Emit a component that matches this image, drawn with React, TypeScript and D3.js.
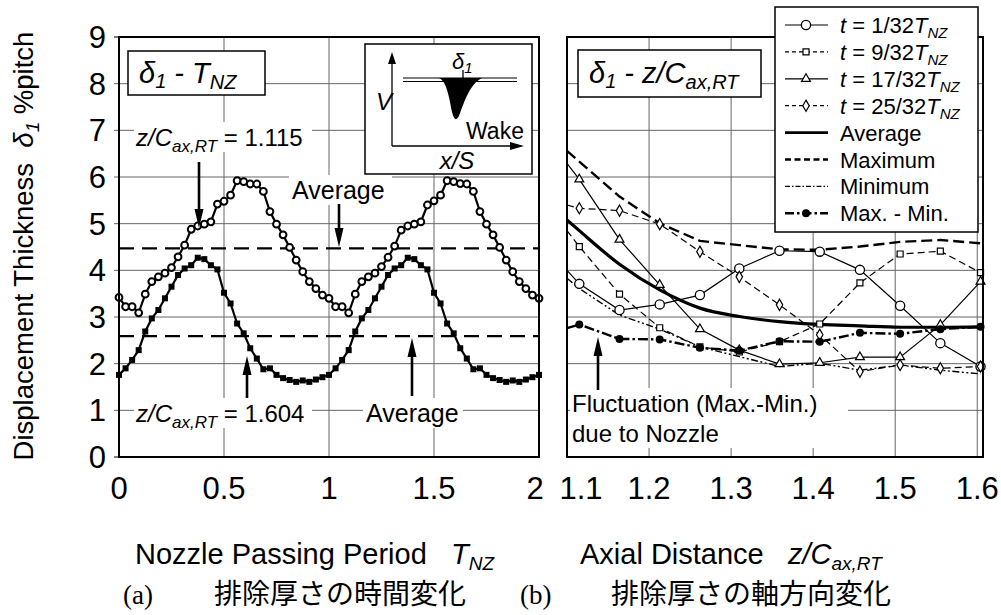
import * as d3 from 'd3';

const FONT = "'Liberation Sans', Arial, Helvetica, sans-serif";

// axis ticks
const yTicks = [0, 1, 2, 3, 4, 5, 6, 7, 8, 9];
const leftXTicks = [0, 0.5, 1, 1.5, 2];
const leftXLabels = ['0', '0.5', '1', '1.5', '2'];
const rightXTicks = [1.1, 1.2, 1.3, 1.4, 1.5, 1.6];
const rightXLabels = ['1.1', '1.2', '1.3', '1.4', '1.5', '1.6'];

// (a) time history over two nozzle passing periods, 1/32 T_NZ steps
const phase = d3.range(65).map(i => i / 32);
const delta1115 = [
  3.42, 3.22, 3.22, 3.09, 3.49, 3.76, 3.86, 3.94, 4.06, 4.29, 4.54, 4.88, 4.95, 4.99, 5.04, 5.42,
  5.48, 5.61, 5.92, 5.90, 5.85, 5.85, 5.69, 5.26, 4.99, 4.76, 4.49, 4.22, 3.97, 3.76, 3.61, 3.47,
  3.40, 3.22, 3.22, 3.09, 3.49, 3.76, 3.86, 3.94, 4.08, 4.28, 4.52, 4.86, 4.95, 4.99, 5.04, 5.40,
  5.49, 5.61, 5.92, 5.90, 5.86, 5.85, 5.69, 5.26, 4.99, 4.76, 4.49, 4.22, 3.97, 3.76, 3.61, 3.47,
  3.40,
];
const delta1604 = [
  1.76, 1.90, 2.08, 2.29, 2.69, 2.97, 3.15, 3.40, 3.65, 3.90, 4.04, 4.11, 4.27, 4.24, 4.11, 4.02,
  3.52, 3.29, 2.86, 2.65, 2.33, 2.11, 1.88, 1.90, 1.76, 1.69, 1.65, 1.61, 1.64, 1.61, 1.66, 1.71,
  1.76, 1.90, 2.08, 2.29, 2.69, 2.97, 3.15, 3.40, 3.65, 3.90, 4.04, 4.11, 4.27, 4.24, 4.11, 4.02,
  3.52, 3.29, 2.86, 2.65, 2.33, 2.11, 1.88, 1.90, 1.76, 1.69, 1.65, 1.61, 1.64, 1.61, 1.66, 1.71,
  1.76,
];
const avg1115 = 4.47;
const avg1604 = 2.59;

// (b) axial distribution (first entry = line start at the left frame)
const zAxial = [1.1, 1.115, 1.164, 1.213, 1.262, 1.31, 1.359, 1.408, 1.457, 1.506, 1.555, 1.604];
const t1 = [4.0, 3.71, 3.15, 3.27, 3.47, 4.04, 4.42, 4.4, 4.01, 3.24, 2.44, 1.94];
const t9 = [4.85, 4.51, 3.49, 2.77, 2.36, 2.25, 2.47, 2.85, 3.73, 4.35, 4.41, 3.95];
const t17 = [6.29, 5.95, 4.66, 3.69, 2.74, 2.29, 1.99, 2.02, 2.14, 2.14, 2.83, 3.76];
const t25 = [5.4, 5.33, 5.28, 4.99, 4.4, 3.86, 3.26, 2.62, 1.83, 1.97, 1.9, 1.94];
const avgZ = [5.08, 4.85, 4.13, 3.58, 3.19, 3.01, 2.9, 2.84, 2.81, 2.78, 2.78, 2.79];
const maxZ = [6.56, 6.33, 5.58, 5.01, 4.63, 4.54, 4.45, 4.44, 4.51, 4.61, 4.65, 4.58];
const minZ = [3.83, 3.61, 3.04, 2.74, 2.36, 2.15, 1.94, 2.01, 1.86, 1.97, 1.86, 1.78];
const rangeZ = [2.76, 2.84, 2.53, 2.52, 2.34, 2.28, 2.48, 2.47, 2.66, 2.64, 2.74, 2.79];

const y = d3.scaleLinear().domain([0, 9]).range([457, 37]);
const xa = d3.scaleLinear().domain([0, 2]).range([119, 539]);
const xb = d3.scaleLinear().domain([1.1, 1.607]).range([567, 983]);

type Marker = 'circle' | 'square' | 'triangle' | 'diamond' | 'dot' | 'none';

function MarkerShape({ type, cx, cy }: { type: Marker; cx: number; cy: number }) {
  if (type === 'none') return null;
  if (type === 'circle') return <circle cx={cx} cy={cy} r={4.6} fill="#fff" stroke="#000" strokeWidth={1.3} />;
  if (type === 'dot') return <circle cx={cx} cy={cy} r={4} fill="#000" />;
  const t = type === 'square' ? d3.symbolSquare : type === 'triangle' ? d3.symbolTriangle : d3.symbolDiamond;
  const size = type === 'square' ? 36 : type === 'triangle' ? 34 : 36;
  return (
    <path d={d3.symbol().type(t).size(size)()!} transform={`translate(${cx},${cy})`}
      fill="#fff" stroke="#000" strokeWidth={1.2} />
  );
}

const series = [
  { key: 't1', data: t1, dash: '', w: 1.2, marker: 'circle' as Marker, lgDash: '' },
  { key: 't9', data: t9, dash: '7,4', w: 1.2, marker: 'square' as Marker, lgDash: '4,3' },
  { key: 't17', data: t17, dash: '', w: 1.2, marker: 'triangle' as Marker, lgDash: '' },
  { key: 't25', data: t25, dash: '7,4', w: 1.2, marker: 'diamond' as Marker, lgDash: '4,3' },
  { key: 'avg', data: avgZ, dash: '', w: 3.2, marker: 'none' as Marker, lgDash: '' },
  { key: 'max', data: maxZ, dash: '11,5', w: 2.4, marker: 'none' as Marker, lgDash: '6,3.5' },
  { key: 'min', data: minZ, dash: '7,2.5,2,2.5,2,2.5', w: 1.4, marker: 'none' as Marker, lgDash: '5,2,1.5,2' },
  { key: 'rng', data: rangeZ, dash: '10,3,2.5,3', w: 2.4, marker: 'dot' as Marker, lgDash: '9,3,2.5,3' },
];

const legendLabels = ['1/32', '9/32', '17/32', '25/32', 'Average', 'Maximum', 'Minimum', 'Max. - Min.'];

function Arrow({ x, y1, y2 }: { x: number; y1: number; y2: number }) {
  // from y1 (tail) to y2 (tip)
  const dir = y2 > y1 ? 1 : -1;
  const head = 19;
  return (
    <g>
      <line x1={x} x2={x} y1={y1} y2={y2 - dir * head} stroke="#000" strokeWidth={2.6} />
      <path d={`M${x - 4.5},${y2 - dir * head} L${x + 4.5},${y2 - dir * head} L${x},${y2} Z`} fill="#000" />
    </g>
  );
}

function ZLabel({ x, yy, val }: { x: number; yy: number; val: string }) {
  return (
    <text x={x} y={yy} fontSize={24} fontFamily={FONT}>
      <tspan fontStyle="italic">z/C</tspan>
      <tspan fontStyle="italic" fontSize={17} dy={6}>ax,RT</tspan>
      <tspan dy={-6}>{'\u00a0= ' + val}</tspan>
    </text>
  );
}

export default function App() {
  const lineA = d3.line<number>().x((_, i) => xa(phase[i])).y(d => y(d));
  const lineB = d3.line<number>().x((_, i) => xb(zAxial[i])).y(d => y(d));
  const lineAvg = d3.line<number>().x((_, i) => xb(zAxial[i])).y(d => y(d)).curve(d3.curveMonotoneX);

  return (
    <svg width={1001} height={615} style={{ position: 'absolute', left: 0, top: 0, background: '#fff' }}
      fontFamily={FONT}>
      <rect width={1001} height={615} fill="#fff" />

      {/* grids */}
      {yTicks.slice(1, 9).map(t => (
        <g key={'gy' + t}>
          <line x1={114} x2={539} y1={y(t)} y2={y(t)} stroke="#666" strokeWidth={1} />
          <line x1={567} x2={983} y1={y(t)} y2={y(t)} stroke="#666" strokeWidth={1} />
        </g>
      ))}
      {leftXTicks.slice(1, 4).map(t => (
        <line key={'ga' + t} x1={xa(t)} x2={xa(t)} y1={37} y2={457} stroke="#666" strokeWidth={1} />
      ))}
      {rightXTicks.slice(1).map(t => (
        <line key={'gb' + t} x1={xb(t)} x2={xb(t)} y1={37} y2={457} stroke="#666" strokeWidth={1} />
      ))}
      <line x1={114} x2={119} y1={y(0)} y2={y(0)} stroke="#000" strokeWidth={1} />
      <line x1={114} x2={119} y1={y(9)} y2={y(9)} stroke="#000" strokeWidth={1} />

      {/* label backgrounds */}
      <rect x={134} y={122} width={178} height={30} fill="#fff" />
      <rect x={289} y={175} width={103} height={30} fill="#fff" />
      <rect x={134} y={398} width={178} height={30} fill="#fff" />
      <rect x={363} y={398} width={100} height={30} fill="#fff" />
      <rect x={570} y={388} width={278} height={60} fill="#fff" />

      {/* (a) averages */}
      <line x1={xa(0)} x2={xa(2)} y1={y(avg1115)} y2={y(avg1115)} stroke="#000" strokeWidth={2.4} strokeDasharray="15,8" />
      <line x1={xa(0)} x2={xa(2)} y1={y(avg1604)} y2={y(avg1604)} stroke="#000" strokeWidth={2.4} strokeDasharray="15,8" />

      {/* (a) series */}
      <path d={lineA(delta1604)!} fill="none" stroke="#000" strokeWidth={2.2} />
      {delta1604.map((d, i) => (
        <rect key={'sq' + i} x={xa(phase[i]) - 3} y={y(d) - 3} width={6} height={6} fill="#000" />
      ))}
      <path d={lineA(delta1115)!} fill="none" stroke="#000" strokeWidth={2.2} />
      {delta1115.map((d, i) => (
        <circle key={'c' + i} cx={xa(phase[i])} cy={y(d)} r={3.4} fill="#fff" stroke="#000" strokeWidth={2} />
      ))}

      {/* (a) annotations */}
      <ZLabel x={136} yy={146} val="1.115" />
      <Arrow x={199} y1={162} y2={228} />
      <text x={292} y={199} fontSize={25}>Average</text>
      <Arrow x={339} y1={204} y2={247} />
      <ZLabel x={136} yy={422} val="1.604" />
      <Arrow x={247} y1={398} y2={356} />
      <text x={366} y={422} fontSize={25}>Average</text>
      <Arrow x={412} y1={396} y2={338} />

      {/* (b) series */}
      {series.map(s => (
        <path key={s.key} d={(s.key === 'avg' ? lineAvg : lineB)(s.data)!} fill="none" stroke="#000"
          strokeWidth={s.w} strokeDasharray={s.dash || undefined} />
      ))}
      {series.map(s => s.data.slice(1).map((d, i) => (
        <MarkerShape key={s.key + i} type={s.marker} cx={xb(zAxial[i + 1])} cy={y(d)} />
      )))}

      {/* (b) annotation */}
      <Arrow x={598} y1={390} y2={337} />
      <text x={572} y={412} fontSize={24}>Fluctuation (Max.-Min.)</text>
      <text x={572} y={442} fontSize={24}>due to Nozzle</text>

      {/* frames */}
      <rect x={119} y={37} width={420} height={420} fill="none" stroke="#000" strokeWidth={2} />
      <rect x={567} y={37} width={416} height={420} fill="none" stroke="#000" strokeWidth={2} />

      {/* inset */}
      <rect x={365} y={44} width={167} height={130} fill="#fff" stroke="#000" strokeWidth={1.5} />
      <line x1={392} x2={392} y1={146} y2={62} stroke="#000" strokeWidth={1.3} />
      <path d="M388,64 L396,64 L392,52 Z" fill="#000" />
      <line x1={392} x2={512} y1={146} y2={146} stroke="#000" strokeWidth={1.3} />
      <path d="M510,142 L510,150 L524,146 Z" fill="#000" />
      <line x1={403} x2={517} y1={78} y2={78} stroke="#000" strokeWidth={1.2} />
      <line x1={403} x2={444} y1={81.5} y2={81.5} stroke="#000" strokeWidth={1.2} />
      <line x1={476} x2={517} y1={81.5} y2={81.5} stroke="#000" strokeWidth={1.2} />
      <path d="M438,78 C446,79 449,96 452,112 Q455,124 459,116 C465,100 470,84 482,78 Z" fill="#000" />
      <line x1={463} x2={463} y1={70} y2={78} stroke="#000" strokeWidth={1.3} />
      <text x={452} y={69} fontSize={22} fontStyle="italic">δ<tspan fontSize={15} dy={4}>1</tspan></text>
      <text x={376} y={110} fontSize={24} fontStyle="italic">V</text>
      <text x={466} y={139} fontSize={23}>Wake</text>
      <text x={457} y={169} fontSize={24} fontStyle="italic" textAnchor="middle">x/S</text>

      {/* title boxes */}
      <rect x={128} y={51} width={137} height={44} fill="#fff" stroke="#000" strokeWidth={1.5} />
      <text x={139} y={83} fontSize={29} fontStyle="italic">
        δ<tspan fontSize={20} dy={5}>1</tspan><tspan dy={-5}>{'\u00a0-\u00a0T'}</tspan>
        <tspan fontSize={20} dy={6}>NZ</tspan>
      </text>
      <rect x={578} y={50} width={183} height={47} fill="#fff" stroke="#000" strokeWidth={1.5} />
      <text x={589} y={83} fontSize={29} fontStyle="italic">
        δ<tspan fontSize={20} dy={5}>1</tspan><tspan dy={-5}>{'\u00a0-\u00a0z/C'}</tspan>
        <tspan fontSize={20} dy={6}>ax,RT</tspan>
      </text>

      {/* legend */}
      <rect x={775} y={7} width={203} height={225} fill="#fff" stroke="#000" strokeWidth={1.5} />
      {series.map((s, i) => {
        const ly = 25 + i * 26.9;
        return (
          <g key={'lg' + s.key}>
            <line x1={785} x2={828} y1={ly} y2={ly} stroke="#000" strokeWidth={Math.min(s.w, 2.6)}
              strokeDasharray={s.lgDash || undefined} />
            <MarkerShape type={s.marker} cx={806} cy={ly} />
            {i < 4 ? (
              <text x={840} y={ly + 8} fontSize={22}>
                <tspan fontStyle="italic">t</tspan>{'\u00a0= ' + legendLabels[i]}
                <tspan fontStyle="italic">T</tspan>
                <tspan fontStyle="italic" fontSize={15} dy={5}>NZ</tspan>
              </text>
            ) : (
              <text x={840} y={ly + 8} fontSize={22}>{legendLabels[i]}</text>
            )}
          </g>
        );
      })}

      {/* tick labels */}
      {yTicks.map(t => (
        <text key={'yl' + t} x={106} y={y(t) + 11} fontSize={31} textAnchor="end">{t}</text>
      ))}
      {leftXTicks.map((t, i) => (
        <text key={'xa' + t} x={i === 4 ? xa(t) - 4 : xa(t)} y={499} fontSize={31} textAnchor="middle">{leftXLabels[i]}</text>
      ))}
      {rightXTicks.map((t, i) => (
        <text key={'xb' + t} x={i === 0 ? xb(t) + 14 : xb(t)} y={499} fontSize={31} textAnchor="middle">{rightXLabels[i]}</text>
      ))}

      {/* axis titles */}
      <text x={135} y={564} fontSize={29}>
        {'Nozzle Passing Period\u00a0\u00a0 '}
        <tspan fontStyle="italic">T</tspan>
        <tspan fontStyle="italic" fontSize={19} dy={6}>NZ</tspan>
      </text>
      <text x={580} y={564} fontSize={29}>
        {'Axial Distance\u00a0\u00a0 '}
        <tspan fontStyle="italic">z/C</tspan>
        <tspan fontStyle="italic" fontSize={19} dy={6}>ax,RT</tspan>
      </text>
      <text transform="translate(33,246) rotate(-90)" fontSize={27.5} textAnchor="middle">
        {'Displacement Thickness\u00a0\u00a0'}
        <tspan fontStyle="italic">δ</tspan>
        <tspan fontStyle="italic" fontSize={19} dy={6}>1</tspan>
        <tspan dy={-6}>{'\u00a0%pitch'}</tspan>
      </text>

      {/* captions */}
      <text x={123} y={604} fontSize={27} fontFamily="'Liberation Serif', serif">(a)</text>
      <text x={214} y={604} fontSize={28} fontFamily="'Noto Sans CJK JP', sans-serif">排除厚さの時間変化</text>
      <text x={520} y={604} fontSize={27} fontFamily="'Liberation Serif', serif">(b)</text>
      <text x={611} y={604} fontSize={28} fontFamily="'Noto Sans CJK JP', sans-serif">排除厚さの軸方向変化</text>
    </svg>
  );
}
